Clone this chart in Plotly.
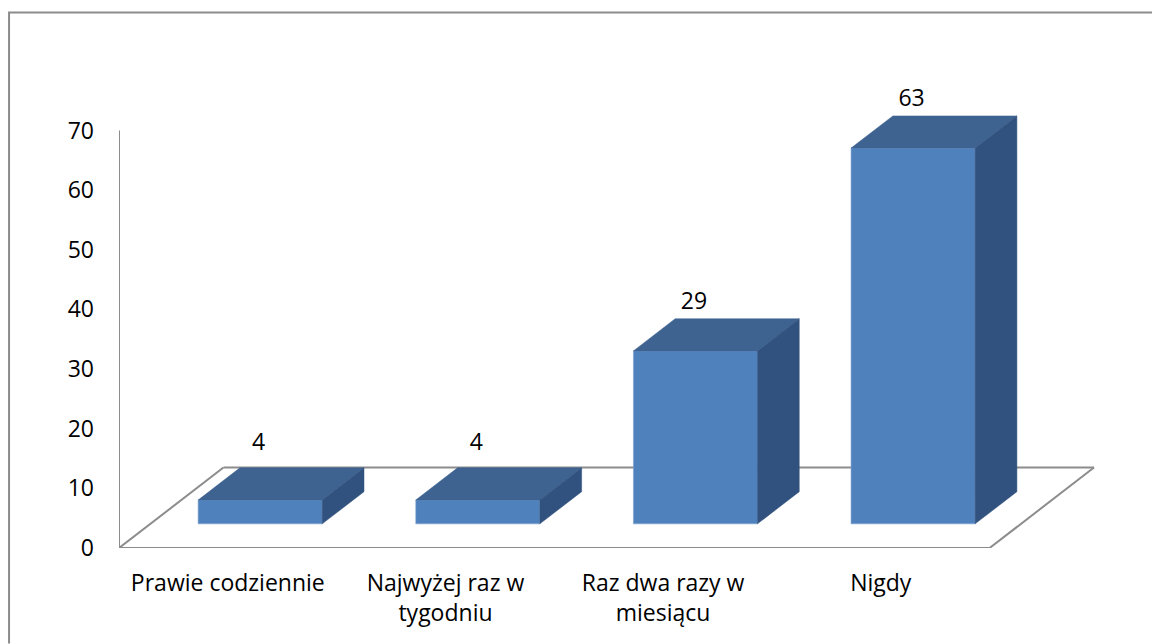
import plotly.graph_objects as go

categories = ["Prawie codziennie", "Najwyżej raz w<br>tygodniu", "Raz dwa razy w<br>miesiącu", "Nigdy"]
values = [4, 4, 29, 63]
y_ticks = [0, 10, 20, 30, 40, 50, 60, 70]

W, H = 1152, 644
L, B = 118.5, 95.5
CAT_PX = 217.75       # pixels per category
UNIT_PX = 5.97        # pixels per value unit
DX, DY = 104.5 / CAT_PX, 80.5 / UNIT_PX   # floor depth projected on the axes
Z0, Z1 = 0.3, 0.7     # bar front / back depth
BAR_W = 0.57
BAR_SHIFT = 1 / CAT_PX
LABEL_SHIFT = -0.5 / CAT_PX
LABEL_FLOOR = 15.4
FONT = "Open Sans"
FS = 23
GREY = "#8c8c8c"


def proj(x, y, z):
    return x + z * DX, y + z * DY


fig = go.Figure()

# front faces
fig.add_trace(go.Bar(
    x=[i + 0.5 + BAR_SHIFT + Z0 * DX for i in range(len(values))],
    y=values,
    base=Z0 * DY,
    width=BAR_W,
    marker=dict(color="#4f81bd", line=dict(color="#7fa3d0", width=0.6)),
    showlegend=False, hoverinfo="skip",
))

# top and side faces
for i, v in enumerate(values):
    x0, x1 = i + 0.5 + BAR_SHIFT - BAR_W / 2, i + 0.5 + BAR_SHIFT + BAR_W / 2
    top = [proj(x0, v, Z0), proj(x1, v, Z0), proj(x1, v, Z1), proj(x0, v, Z1), proj(x0, v, Z0)]
    side = [proj(x1, 0, Z0), proj(x1, v, Z0), proj(x1, v, Z1), proj(x1, 0, Z1), proj(x1, 0, Z0)]
    for pts, col in ((top, "#3e6391"), (side, "#31527e")):
        fig.add_trace(go.Scatter(
            x=[p[0] for p in pts], y=[p[1] for p in pts], mode="lines",
            fill="toself", fillcolor=col, line=dict(color=col, width=0.5),
            showlegend=False, hoverinfo="skip", cliponaxis=False,
        ))

# data labels
lx, ly = [], []
for i, v in enumerate(values):
    px, _ = proj(i + 0.5 + LABEL_SHIFT, v, Z0)
    _, py = proj(i + 0.5, v, Z1)
    lx.append(px)
    ly.append(max(py + 0.7, LABEL_FLOOR))
fig.add_trace(go.Scatter(
    x=lx, y=ly, mode="text", text=[str(v) for v in values], textposition="top center",
    textfont=dict(family=FONT, size=FS, color="#000000"),
    showlegend=False, hoverinfo="skip", cliponaxis=False,
))

# floor and wall edge
n = len(values)
floor = [proj(0, 0, 0), proj(n, 0, 0), proj(n, 0, 1), proj(0, 0, 1), proj(0, 0, 0)]
shapes = []
for a, b in zip(floor[:-1], floor[1:]):
    shapes.append(dict(type="line", xref="x", yref="y", x0=a[0], y0=a[1], x1=b[0], y1=b[1],
                       line=dict(color=GREY, width=2), layer="below"))
shapes.append(dict(type="line", xref="x", yref="y", x0=0, y0=0, x1=0, y1=y_ticks[-1],
                   line=dict(color=GREY, width=2), layer="below"))

# outer chart frame, open at the right and bottom
PW, PH = W - L, H - B
fx, fy = (8.5 - L) / PW, (H - 12.5 - B) / PH
fr = (W - L) / PW
shapes.append(dict(type="path", xref="paper", yref="paper",
                   path=f"M {fx} {-B / PH} L {fx} {fy} L {fr} {fy}",
                   line=dict(color=GREY, width=2)))

fig.update_layout(
    width=W, height=H, autosize=False,
    margin=dict(l=L, r=0, t=0, b=B, pad=0),
    paper_bgcolor="#ffffff", plot_bgcolor="#ffffff",
    barmode="overlay", showlegend=False, shapes=shapes,
    font=dict(family=FONT, size=FS, color="#000000"),
    xaxis=dict(range=[0, PW / CAT_PX], tickmode="array",
               tickvals=[i + 0.5 for i in range(n)], ticktext=categories,
               showgrid=False, zeroline=False, showline=False, ticks="",
               ticklabelstandoff=19, tickangle=0),
    yaxis=dict(range=[0, PH / UNIT_PX], tickmode="array", tickvals=y_ticks,
               showgrid=False, zeroline=False, showline=False, ticks="",
               ticklabelstandoff=24),
)

fig.write_html("out.html", config={"displayModeBar": False},
               post_script="document.body.style.margin='0';document.body.style.overflow='hidden';")
